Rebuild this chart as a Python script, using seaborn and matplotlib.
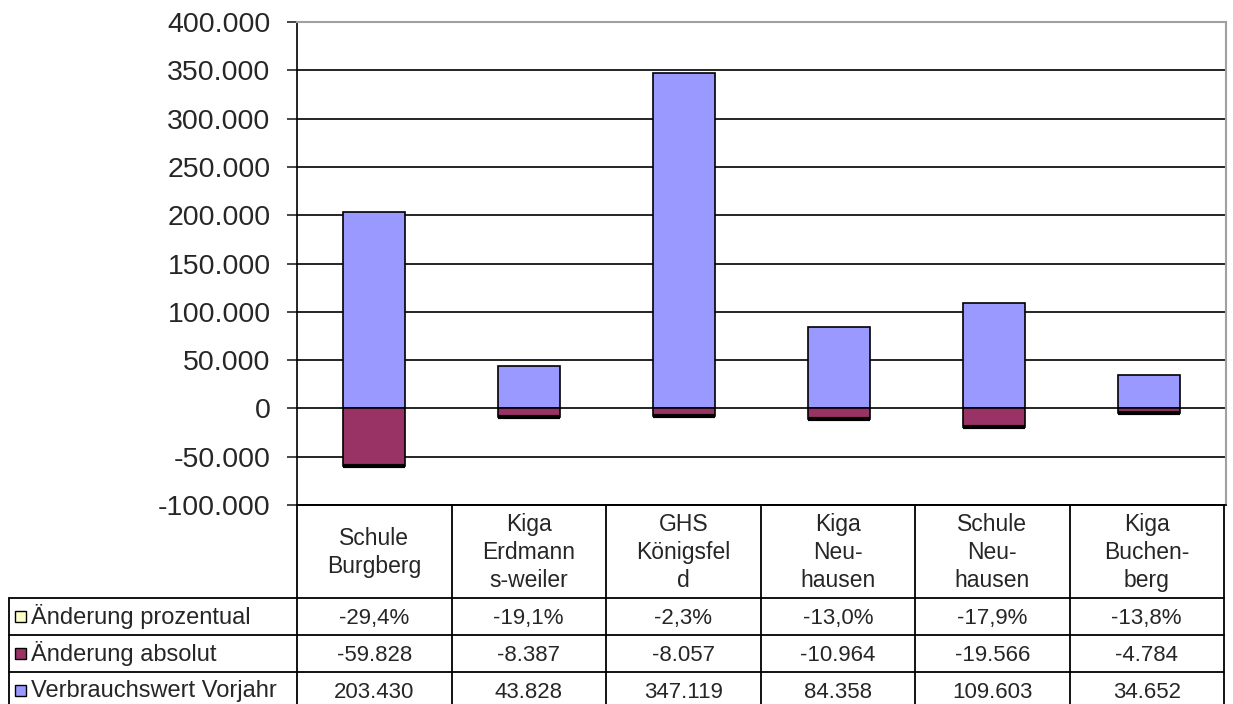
import numpy as np
import seaborn as sns
import matplotlib.pyplot as plt
from matplotlib.patches import Rectangle
from matplotlib.ticker import FuncFormatter

# Daten
standorte = ["Schule\nBurgberg", "Kiga\nErdmann\ns-weiler", "GHS\nKönigsfel\nd",
             "Kiga\nNeu-\nhausen", "Schule\nNeu-\nhausen", "Kiga\nBuchen-\nberg"]
vorjahr = [203430, 43828, 347119, 84358, 109603, 34652]
absolut = [-59828, -8387, -8057, -10964, -19566, -4784]
prozentual = [-29.4, -19.1, -2.3, -13.0, -17.9, -13.8]

reihen = ["Änderung prozentual", "Änderung absolut", "Verbrauchswert Vorjahr"]
farben = ["#FFFFCC", "#993366", "#9999FF"]

sns.set_style("white")
plt.rcParams["font.family"] = ["Liberation Sans", "DejaVu Sans"]

W, H = 1233, 704
fig = plt.figure(figsize=(W / 100, H / 100), dpi=100)

# Diagrammbereich (Pixel -> Figurkoordinaten)
x0, x1, y_top, y_bot = 297, 1226, 22, 505
ax = fig.add_axes([x0 / W, 1 - y_bot / H, (x1 - x0) / W, (y_bot - y_top) / H])

x = np.arange(len(vorjahr))
sns.barplot(x=x, y=vorjahr, color=farben[2], width=0.4, edgecolor="black",
            linewidth=1.2, saturation=1, ax=ax, zorder=3)
sns.barplot(x=x, y=absolut, color=farben[1], width=0.4, edgecolor="black",
            linewidth=1.2, saturation=1, ax=ax, zorder=3)
# prozentuale Aenderung gestapelt (winzig, nur Rand sichtbar)
ax.bar(x, np.array(prozentual) / 100, bottom=absolut, width=0.4, color=farben[0],
       edgecolor="black", linewidth=3, zorder=3)

ax.set_xlim(-0.5, len(vorjahr) - 0.5)
ax.set_ylim(-100000, 400000)
ax.set_yticks(range(-100000, 400001, 50000))
ax.yaxis.set_major_formatter(FuncFormatter(lambda v, p: f"{int(v):,}".replace(",", ".")))
ax.tick_params(axis="y", labelsize=20.5, length=7, width=1.2, direction="out", left=True, pad=12)
ax.set_xticks([])
ax.set_xlabel("")
ax.set_ylabel("")
ax.grid(axis="y", color="black", linewidth=1.2, zorder=0)
ax.set_axisbelow(True)
for s in ["top", "right"]:
    ax.spines[s].set_color("#a0a0a0")
    ax.spines[s].set_linewidth(1.5)
ax.spines["left"].set_color("black")
ax.spines["left"].set_linewidth(1.2)
ax.spines["bottom"].set_color("black")
ax.spines["bottom"].set_linewidth(1.2)

# Datentabelle unten
tab = fig.add_axes([0, 0, 1, 1])
tab.set_xlim(0, W)
tab.set_ylim(H, 0)
tab.axis("off")
tab.patch.set_alpha(0)

t_left, t_right = 9, 1224
zeilen_y = [505, 598, 635, 672, 710]
col_w = (t_right - x0) / len(vorjahr)
col_x = [x0 + i * col_w for i in range(len(vorjahr) + 1)]
lw = 1.3

# horizontale Linien
tab.plot([x0, t_right], [zeilen_y[0]] * 2, color="black", lw=lw)
for yy in zeilen_y[1:]:
    tab.plot([t_left, t_right], [yy, yy], color="black", lw=lw)
# vertikale Linien
for xx in col_x:
    tab.plot([xx, xx], [zeilen_y[0], H], color="black", lw=lw)
tab.plot([t_left, t_left], [zeilen_y[1], H], color="black", lw=lw)

# Kopfzeile
for i, name in enumerate(standorte):
    tab.text((col_x[i] + col_x[i + 1]) / 2, (zeilen_y[0] + zeilen_y[1]) / 2 + 1, name,
             ha="center", va="center", fontsize=16.5, linespacing=1.3)

# Zeilen
werte = [
    [f"{v:.1f}%".replace(".", ",") for v in prozentual],
    [f"{v:,}".replace(",", ".") for v in absolut],
    [f"{v:,}".replace(",", ".") for v in vorjahr],
]
for r, (label, farbe) in enumerate(zip(reihen, farben)):
    yc = (zeilen_y[r + 1] + zeilen_y[r + 2]) / 2
    if r == 2:
        yc = zeilen_y[r + 1] + 19
    tab.add_patch(Rectangle((15, yc - 6), 11, 11, facecolor=farbe, edgecolor="black", lw=1))
    tab.text(31, yc, label, ha="left", va="center", fontsize=17)
    for i, w in enumerate(werte[r]):
        tab.text((col_x[i] + col_x[i + 1]) / 2, yc + 2, w, ha="center",
                 va="center", fontsize=16)

fig.savefig("out.png", dpi=100)
